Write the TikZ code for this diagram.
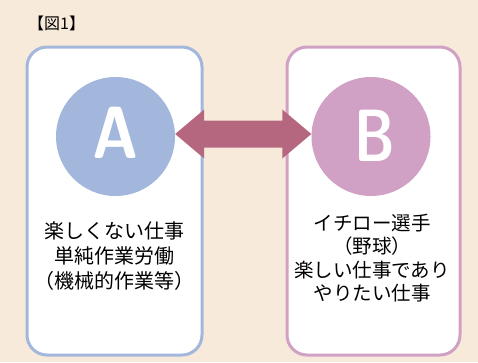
\documentclass[tikz,border=0pt]{standalone}
\usepackage{fontspec}
\newfontfamily\jp{Noto Sans CJK JP}
\usetikzlibrary{calc}
\definecolor{bg}{HTML}{F7EADA}
\definecolor{blueb}{HTML}{A3B7DC}
\definecolor{pinkb}{HTML}{D1A1C5}
\definecolor{arrowc}{HTML}{B5677F}
\tikzset{
  panel/.style={line width=3pt, fill=white, rounded corners=20pt},
  bigcirc/.style={circle, inner sep=0pt, minimum size=119pt, text=white, font=\fontsize{74}{74}\selectfont\sffamily\bfseries},
  bodyl/.style={align=center, font=\jp\fontsize{20}{25}\selectfont, text=black},
  bodyr/.style={align=center, font=\jp\fontsize{19.5}{23.3}\selectfont, text=black},
}
\begin{document}
\begin{tikzpicture}[x=1pt,y=-1pt]
\fill[bg] (0,0) rectangle (478,362);
\useasboundingbox (0,0) rectangle (478,362);
\node[font=\jp\fontsize{16}{16}\selectfont, anchor=west, inner sep=0pt] (title) at (28,23) {【図1】};
\draw[panel, draw=blueb] (27,47) rectangle (202,355);
\draw[panel, draw=pinkb] (287,47) rectangle (460,355);
\node[bigcirc, fill=blueb] (A) at (115.5,136.5) {};
\node[bigcirc, fill=pinkb] (B) at (371,136.5) {};
\node[text=white, font=\fontsize{74}{74}\selectfont\sffamily\bfseries, inner sep=0pt] (la) at (116,133) {\scalebox{0.85}[1]{A}};
\node[text=white, font=\fontsize{74}{74}\selectfont\sffamily\bfseries, inner sep=0pt] (lb) at (374.5,135.5) {\scalebox{0.75}[1]{B}};
\fill[arrowc] ($(A.east)+(0,-2.5)$) -- ++(29,-24.5) -- ++(0,11) -- ($(B.west)+(-29,-16)$) -- ++(0,-11) -- ($(B.west)+(0,-2.5)$) -- ++(-29,24.5) -- ++(0,-11) -- ($(A.east)+(29,11)$) -- ++(0,11) -- cycle;
\node[bodyl] (ta) at (114,256.5) {楽しくない仕事\\単純作業労働\\（機械的作業等）};
\node[bodyr] (tb) at (372,258) {イチロー選手\\（野球）\\楽しい仕事であり\\やりたい仕事};
\end{tikzpicture}
\end{document}
